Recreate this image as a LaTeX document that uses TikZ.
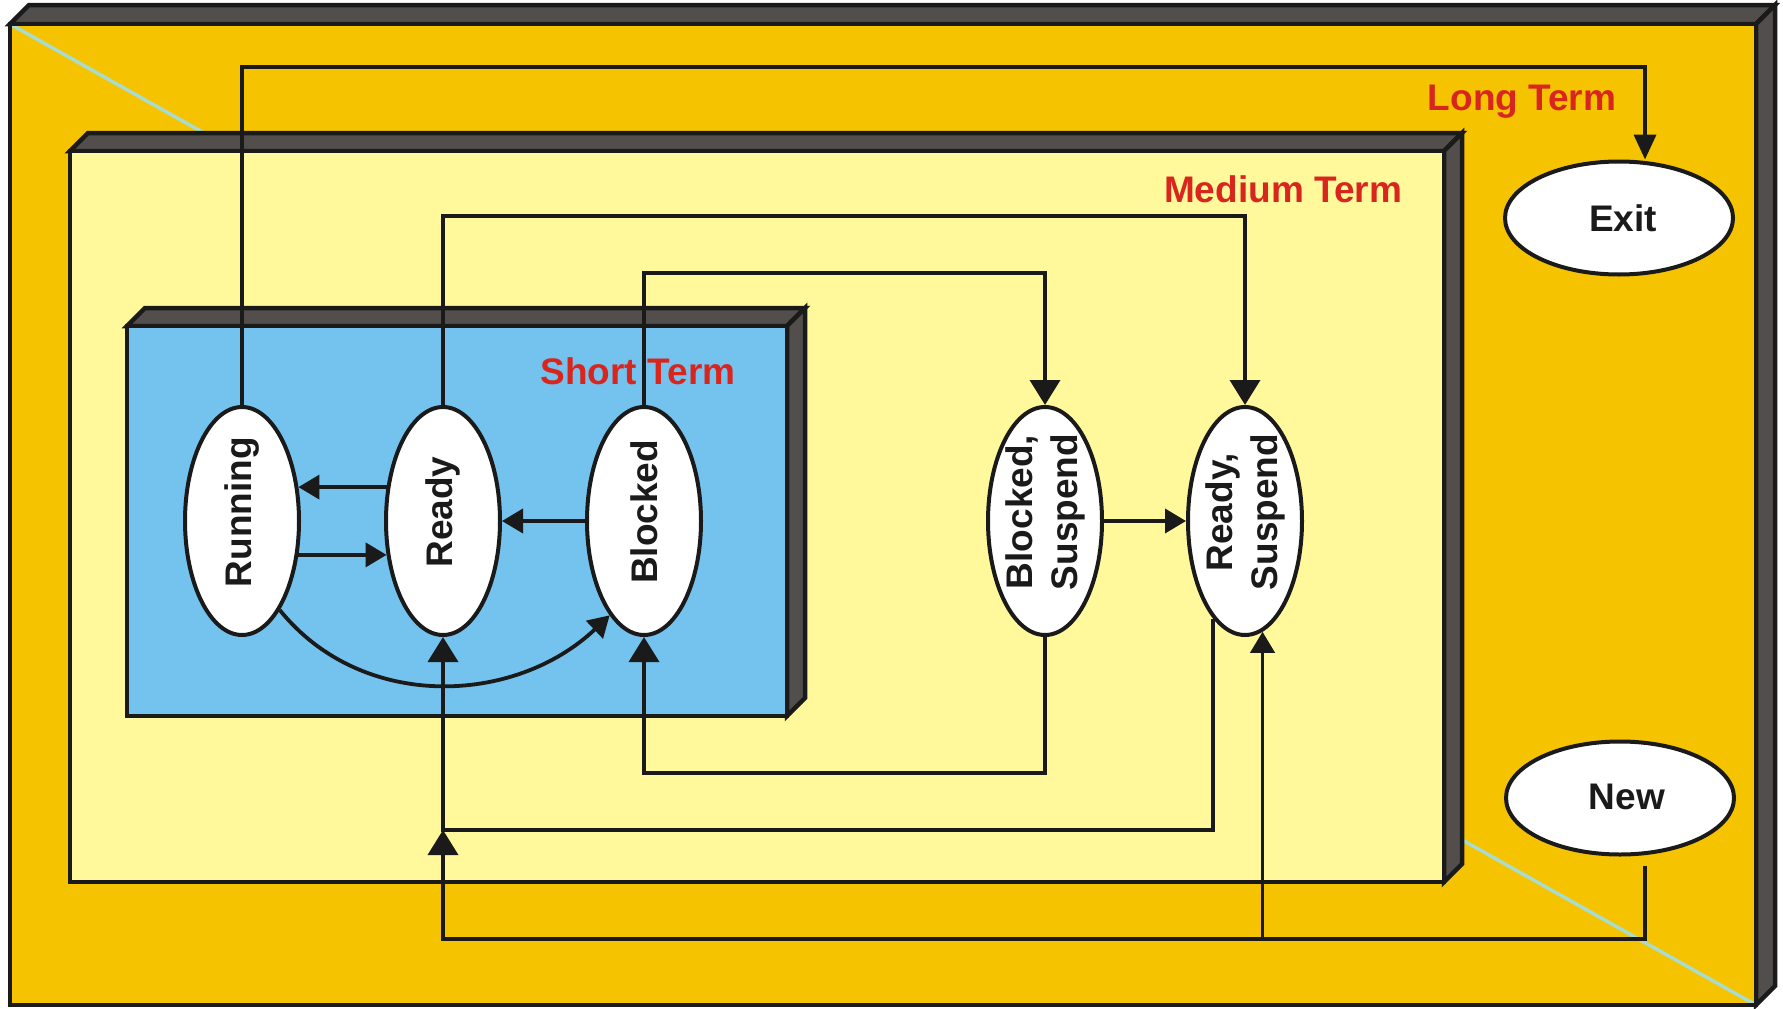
\documentclass[tikz,border=0pt]{standalone}
\usepackage{fontspec}
\setmainfont{Liberation Sans}
\usetikzlibrary{shapes.geometric,arrows.meta,calc}
\definecolor{outerc}{HTML}{F6C300}
\definecolor{midc}{HTML}{FFF99B}
\definecolor{bluec}{HTML}{74C2EE}
\definecolor{sidec}{HTML}{524E4B}
\definecolor{diagc}{HTML}{A8DCCF}
\definecolor{redc}{HTML}{D8261E}
\definecolor{linec}{HTML}{1A1A1A}
\begin{document}
\begin{tikzpicture}[x=1pt,y=-1pt,
  box/.style={draw=linec, line width=4.5pt, line join=miter},
  side/.style={box, fill=sidec},
  state/.style={ellipse, draw=linec, line width=4pt, fill=white, minimum width=114pt, minimum height=228pt, inner sep=0pt},
  hstate/.style={ellipse, draw=linec, line width=4pt, fill=white, minimum width=228pt, minimum height=113pt, inner sep=0pt},
  vtext/.style={rotate=90, align=center, font=\fontsize{37}{45}\selectfont\bfseries, text=linec, inner sep=0pt},
  htext/.style={font=\fontsize{37}{45}\selectfont\bfseries, text=linec, inner sep=0pt},
  term/.style={font=\fontsize{37}{45}\selectfont\bfseries, text=redc, anchor=base, inner sep=0pt},
  conn/.style={draw=linec, line width=3.8pt},
  arr/.style={conn, -{Triangle[length=21pt,width=24pt]}},
  arrbig/.style={conn, -{Triangle[length=25pt,width=30pt]}},
  arrexit/.style={conn, -{Triangle[length=25pt,width=22pt]}},
]
\fill[white] (0,0) rectangle (1783,1009);
\path[use as bounding box] (0,0) rectangle (1783,1009);
% outer box (long term)
\draw[side] (10,24) -- (29,5) -- (1775,5) -- (1756,24) -- cycle;
\draw[side] (1756,24) -- (1775,5) -- (1775,986) -- (1756,1005) -- cycle;
\fill[outerc] (10,24) rectangle (1756,1005);
\draw[diagc, line width=3.5pt] (10,24) -- (1756,1005);
\draw[box] (10,24) rectangle (1756,1005);
% medium box
\draw[side] (70,151) -- (88,133) -- (1462,133) -- (1444,151) -- cycle;
\draw[side] (1444,151) -- (1462,133) -- (1462,864) -- (1444,882) -- cycle;
\draw[box, fill=midc] (70,151) rectangle (1444,882);
% short box
\draw[side] (127,326) -- (145,308) -- (805,308) -- (787,326) -- cycle;
\draw[side] (787,326) -- (805,308) -- (805,698) -- (787,716) -- cycle;
\draw[box, fill=bluec] (127,326) rectangle (787,716);
% labels
\node[term] (ltT) at (1522,110) {Long Term};
\node[term] (mtT) at (1283,202) {Medium Term};
\node[term] (stT) at (638,384) {Short Term};
% states
\node[state] (run) at (242,521) {};
\node[state] (rdy) at (443,521) {};
\node[state] (blk) at (644,521) {};
\node[state] (bs) at (1045,521) {};
\node[state] (rs) at (1245,521) {};
\node[hstate] (exit) at (1619,218) {};
\node[hstate] (new) at (1620,798) {};
\node[vtext] (runT) at ($(run)+(0,-9)$) {Running};
\node[vtext] (rdyT) at ($(rdy)+(0,-9)$) {Ready};
\node[vtext] (blkT) at ($(blk)+(0,-9)$) {Blocked};
\node[vtext] (bsT) at ($(bs)+(0,-9)$) {Blocked,\\Suspend};
\node[vtext] (rsT) at ($(rs)+(0,-9)$) {Ready,\\Suspend};
\node[htext] (exitT) at (1623,218) {Exit};
\node[htext] (newT) at (1627,797) {New};
% route levels
\coordinate (LT) at (1645,67);
\coordinate (MT) at (0,216);
\coordinate (ST) at (0,273);
\coordinate (B1) at (0,773);
\coordinate (B2) at (0,830);
\coordinate (B3) at (0,939);
% connectors
\draw[arrexit] (run.north) |- (LT) -- (LT |- exit.north);
\draw[arrbig] (rdy.north) |- (rs.north |- MT) -- (rs.north);
\draw[arrbig] (blk.north) |- (bs.north |- ST) -- (bs.north);
\draw[arr] (rdy.149) -- (run.31);
\draw[arr] (run.-31) -- (rdy.211);
\draw[arr] (blk.west) -- (rdy.east);
\draw[arr] (run.-67) .. controls (362,712) and (515,705) .. (blk.250);
\draw[arr] (bs.east) -- (rs.west);
\draw[arrbig] (bs.south) |- (blk.south |- B1) -- (blk.south);
\draw[arrbig] (rs.252) |- (rdy.south |- B2) -- (rdy.south);
\draw[arrbig] ($(new.south -| LT)+(0,9)$) |- (rdy.south |- B3) -- (rdy.south |- B2);
\draw[arr] (rs.279 |- B3) -- (rs.279);
\end{tikzpicture}
\end{document}
